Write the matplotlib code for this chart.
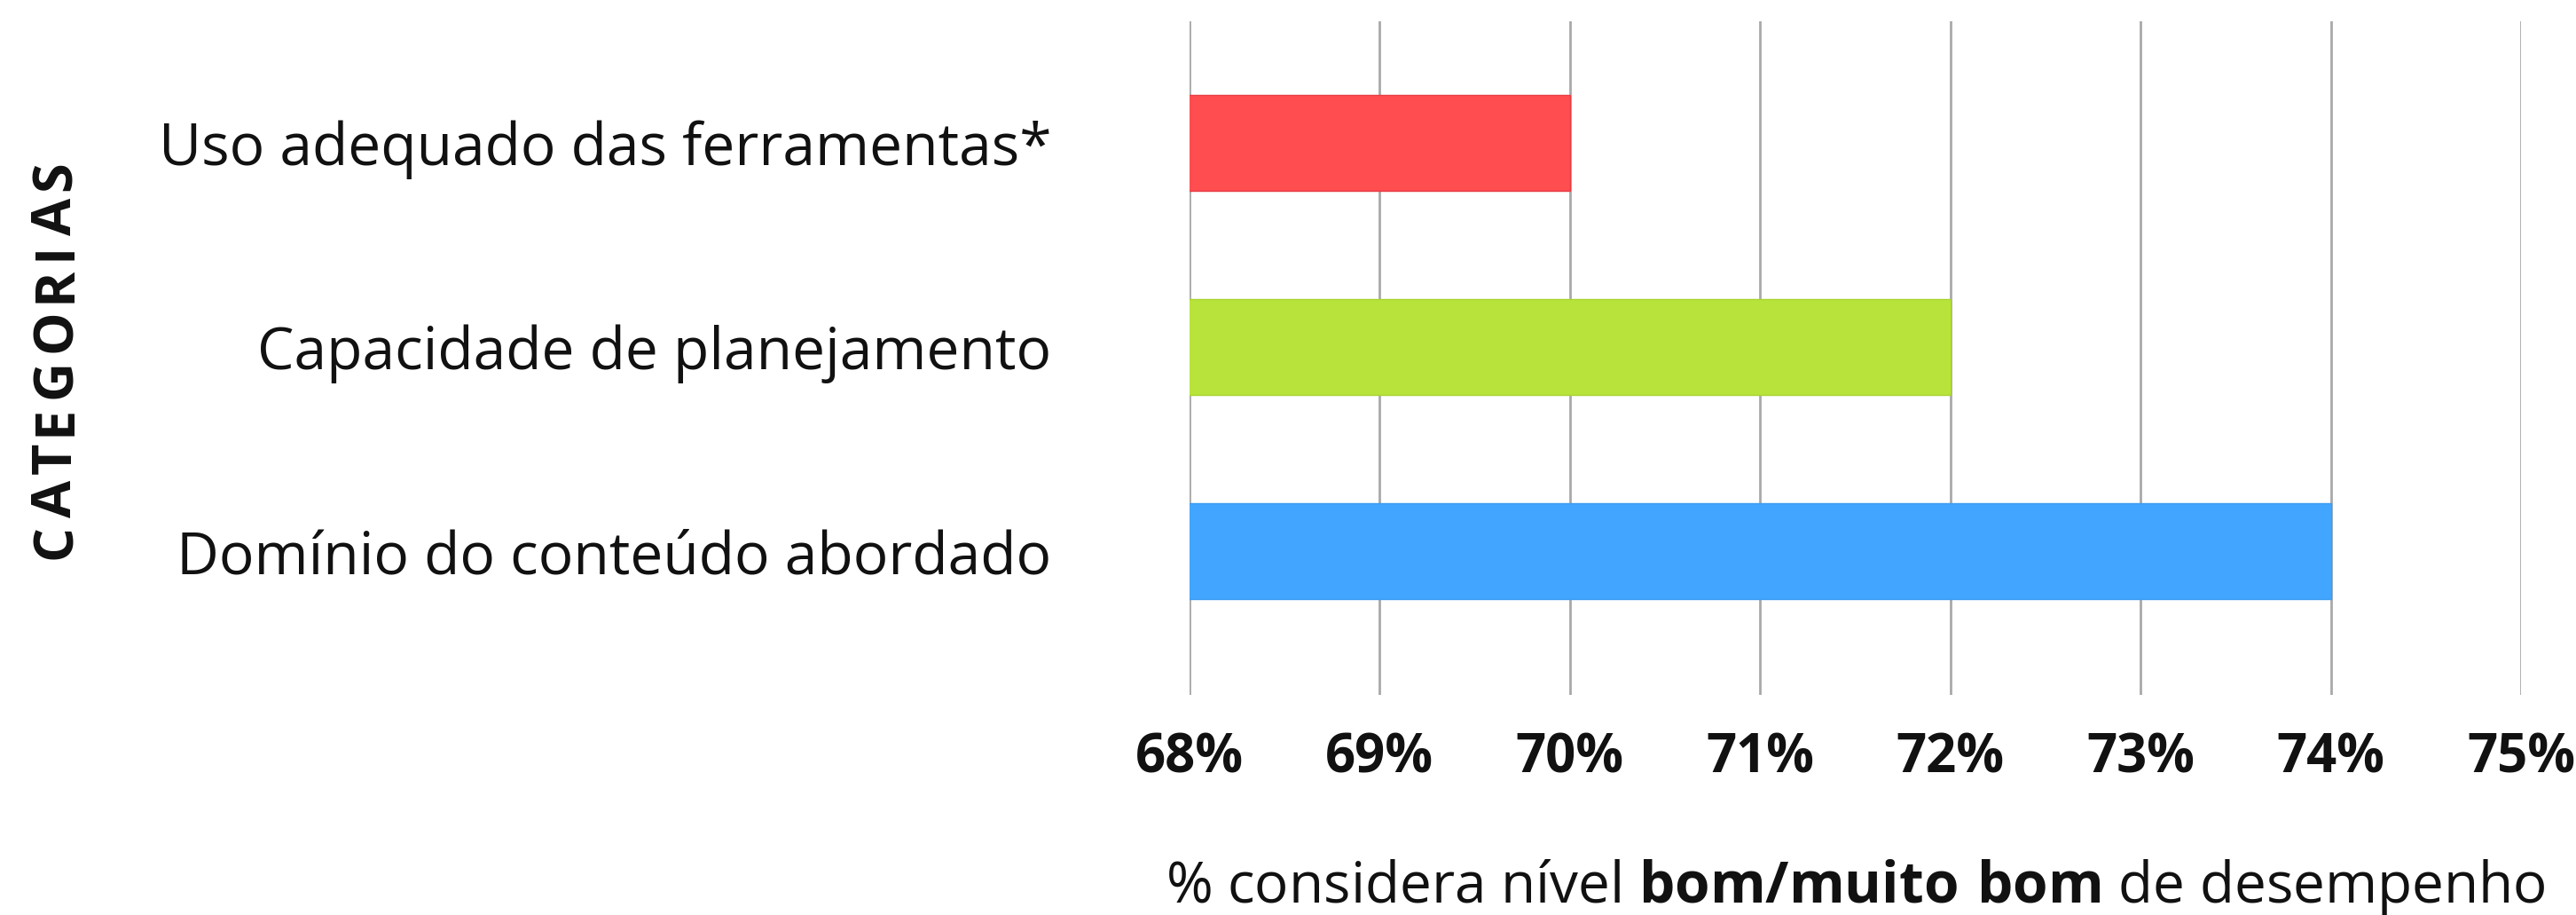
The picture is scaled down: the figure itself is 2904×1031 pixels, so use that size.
import matplotlib
matplotlib.use("Agg")
import matplotlib.pyplot as plt

# ---- data ----
categories = ["Uso adequado das ferramentas*",
              "Capacidade de planejamento",
              "Domínio do conteúdo abordado"]
values = [70, 72, 74]
bar_colors = ["#FF4D50", "#B8E33A", "#42A5FF"]
edge_colors = ["#E83C44", "#A9D431", "#3B9BF0"]
x_ticks = [68, 69, 70, 71, 72, 73, 74, 75]
x_tick_labels = [f"{t}%" for t in x_ticks]
y_title = "CATEGORIAS"
x_title_pre = "% considera nível "
x_title_bold = "bom/muito bom"
x_title_post = " de desempenho"

FONT = "Open Sans"
plt.rcParams["font.family"] = [FONT, "DejaVu Sans"]
plt.rcParams["mathtext.fontset"] = "custom"
plt.rcParams["mathtext.rm"] = FONT
plt.rcParams["mathtext.bf"] = FONT + ":bold"

W, H, DPI = 2904, 1031, 100
fig = plt.figure(figsize=(W / DPI, H / DPI), dpi=DPI)
left, right, top, bottom = 1341 / W, 2842 / W, 1 - 24 / H, 1 - 783 / H
ax = fig.add_axes([left, bottom, right - left, top - bottom])

pos = list(range(len(categories)))
ax.barh(pos, values, height=0.47, color=bar_colors, edgecolor=edge_colors,
        linewidth=1.0, zorder=3)

ax.set_xlim(x_ticks[0], x_ticks[-1])
ax.set_ylim(2.704, -0.596)
ax.set_xticks(x_ticks)
ax.set_xticklabels(x_tick_labels, fontsize=43, fontweight="bold")
ax.set_yticks(pos)
ax.set_yticklabels(categories, fontsize=47.5)
ax.tick_params(axis="x", length=0, pad=30, colors="#111111")
ax.tick_params(axis="y", length=0, pad=112, colors="#111111")
ax.set_axisbelow(True)
ax.grid(axis="x", color="#a9a9a9", linewidth=2.0, zorder=0)
ax.grid(axis="y", visible=False)
for s in ax.spines.values():
    s.set_visible(False)

# x axis title (mixed weight)
fig.text((left + right) / 2, 1 - 1000 / H,
         x_title_pre + r"$\mathbf{" + x_title_bold.replace(" ", r"\ ") + "}$" + x_title_post,
         ha="center", va="center", fontsize=46, color="#111111")

# y axis title with letter spacing, drawn letter by letter upward
prev = None
y0 = 1 - 630 / H
for i, ch in enumerate(y_title):
    if prev is None:
        prev = fig.text(64 / W, y0, ch, rotation=90, ha="center", va="bottom",
                        fontsize=44, fontweight="bold", color="#111111")
    else:
        prev = ax.annotate(ch, xy=(0.5, 1.0), xycoords=prev,
                           xytext=(0, 5.5), textcoords="offset points",
                           rotation=90, ha="center", va="bottom",
                           fontsize=44, fontweight="bold", color="#111111",
                           annotation_clip=False)

fig.savefig("out.png", dpi=DPI)
